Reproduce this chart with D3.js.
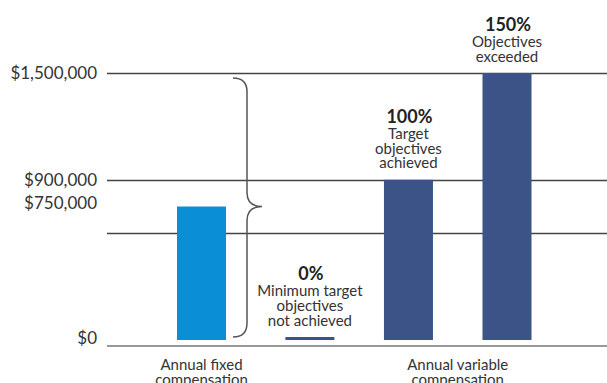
<!DOCTYPE html>
<html>
<head>
<meta charset="utf-8">
<script src="https://cdn.jsdelivr.net/npm/d3@7"></script>
<style>
  html, body { margin: 0; padding: 0; background: #fff; }
  svg { display: block; font-family: Lato, "Noto Sans", sans-serif; }
</style>
</head>
<body>
<svg id="chart" width="607" height="383"></svg>
<script>
// ---- data ----
const categories = ["Annual fixed", "0%", "100%", "150%"];
const groups = ["fixed", "variable", "variable", "variable"];
const values = [750000, 0, 900000, 1500000];
const pctLabels = ["", "0%", "100%", "150%"];
const descLabels = [[], ["Minimum target", "objectives", "not achieved"], ["Target", "objectives", "achieved"], ["Objectives", "exceeded"]];
const tickValues = [0, 750000, 900000, 1500000];
const tickLabels = ["$0", "$750,000", "$900,000", "$1,500,000"];
const gridValues = [600000, 900000, 1500000];
const groupLabels = [["Annual fixed", "compensation"], ["Annual variable", "compensation"]];
const braceRange = [0, 1500000];
const braceTip = 750000;

// ---- layout ----
const svg = d3.select("#chart");
const W = 607;
const y = d3.scaleLinear().domain([0, 1500000]).range([340, 73]);
const groupGap = 0.1;
const slots = categories.map((c, i) => i + (groups[i] === "variable" ? groupGap : 0));
const xc = d3.scaleLinear().domain([0, 3 + groupGap]).range([201.5, 507]);
const bw = 49;
const colors = { fixed: "#0a8fd6", variable: "#3b5387" };

// gridlines
svg.append("g").selectAll("line").data(gridValues).join("line")
  .attr("x1", 107).attr("x2", W)
  .attr("y1", d => Math.round(y(d)) + 0.5).attr("y2", d => Math.round(y(d)) + 0.5)
  .attr("stroke", "#444").attr("stroke-width", 1.5);

// baseline
svg.append("line").attr("x1", 107).attr("x2", W)
  .attr("y1", y(0) + 6).attr("y2", y(0) + 6)
  .attr("stroke", "#777").attr("stroke-width", 1.5);

// y labels
const nudges = { 0: -2, 750000: -3.5 };
svg.append("g").selectAll("text").data(tickValues).join("text")
  .attr("x", 97)
  .attr("y", d => y(d) + (nudges[d] || 0))
  .attr("dy", "0.35em")
  .attr("text-anchor", "end")
  .attr("font-size", 17)
  .attr("fill", "#333")
  .text((d, i) => tickLabels[i]);

// bars
svg.append("g").selectAll("rect").data(values).join("rect")
  .attr("x", (d, i) => xc(slots[i]) - bw / 2)
  .attr("width", bw)
  .attr("y", d => Math.min(y(d), y(0) - 3))
  .attr("height", d => Math.max(y(0) - y(d), 3))
  .attr("fill", (d, i) => colors[groups[i]]);

// bar annotations
const ann = svg.append("g");
values.forEach((v, i) => {
  if (!pctLabels[i]) return;
  const cx = xc(slots[i]);
  const top = Math.min(y(v), y(0) - 3);
  const lines = descLabels[i];
  const lh = 14.7;
  const lastBase = top - 11.5;
  lines.forEach((t, k) => {
    ann.append("text")
      .attr("x", cx).attr("y", lastBase - (lines.length - 1 - k) * lh)
      .attr("text-anchor", "middle")
      .attr("font-size", 15).attr("fill", "#333")
      .text(t);
  });
  ann.append("text")
    .attr("x", cx + 1).attr("y", lastBase - lines.length * lh - 1)
    .attr("text-anchor", "middle")
    .attr("font-size", 18).attr("font-weight", "bold").attr("fill", "#222")
    .text(pctLabels[i]);
});

// brace
const bx = 233, by0 = y(braceRange[1]) + 5, by1 = y(braceRange[0]) - 3, bt = y(braceTip);
const r = 14;
const bp = d3.path();
bp.moveTo(bx, by0);
bp.quadraticCurveTo(bx + r, by0, bx + r, by0 + r);
bp.lineTo(bx + r, bt - r);
bp.quadraticCurveTo(bx + r, bt, bx + r + 15, bt);
bp.quadraticCurveTo(bx + r, bt, bx + r, bt + r);
bp.lineTo(bx + r, by1 - r);
bp.quadraticCurveTo(bx + r, by1, bx, by1);
svg.append("path").attr("d", bp.toString())
  .attr("fill", "none").attr("stroke", "#555").attr("stroke-width", 1.5);

// group labels
const groupCenters = [xc(slots[0]), (xc(slots[2]) + xc(slots[3])) / 2];
groupLabels.forEach((lines, g) => {
  lines.forEach((t, k) => {
    svg.append("text")
      .attr("x", groupCenters[g]).attr("y", 370 + k * 15)
      .attr("text-anchor", "middle")
      .attr("font-size", 15).attr("fill", "#333")
      .text(t);
  });
});
</script>
</body>
</html>
